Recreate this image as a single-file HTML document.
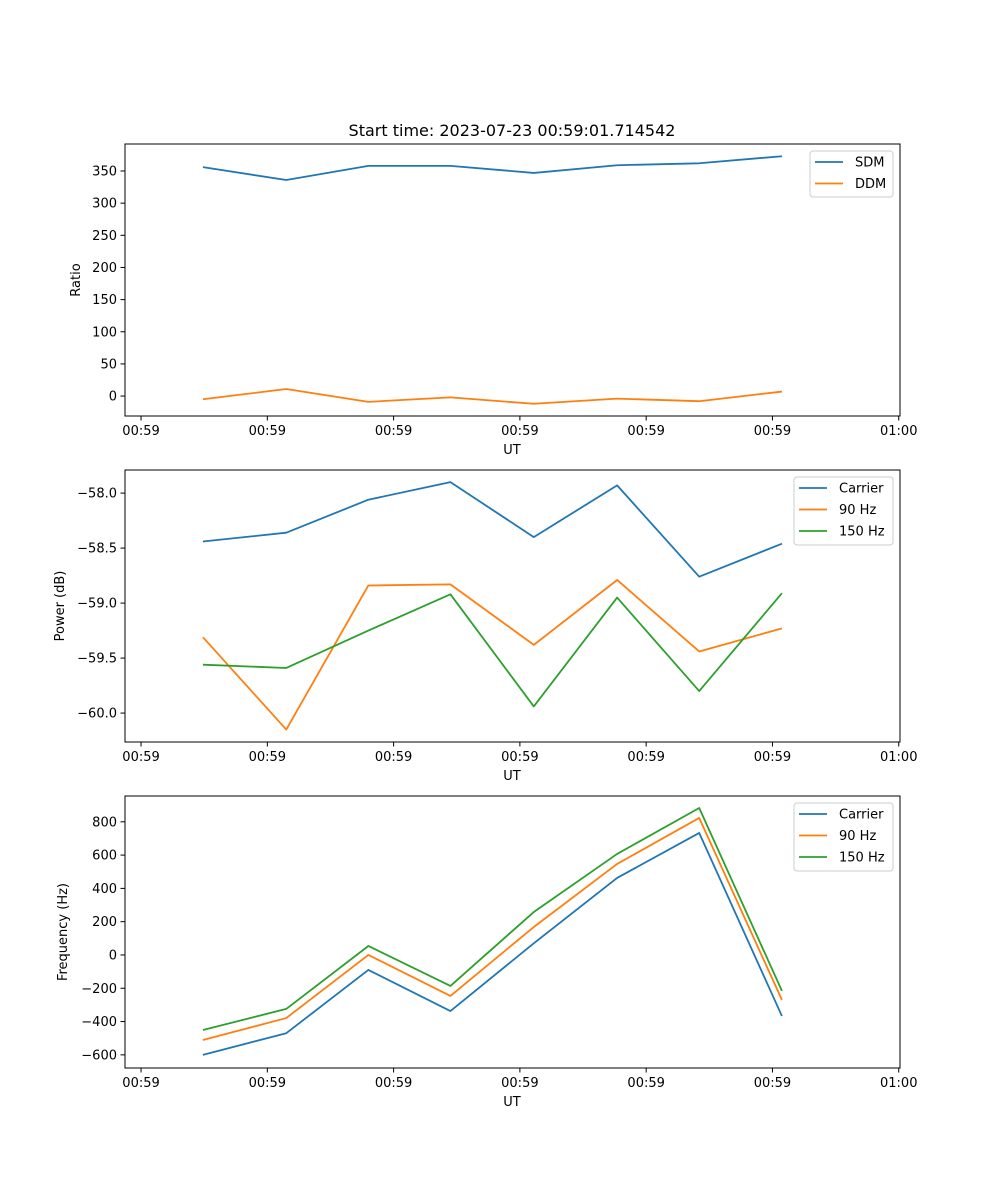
<!DOCTYPE html>
<html><head><meta charset="utf-8">
<style>
html,body{margin:0;padding:0;background:#fff;}
svg{display:block;font-family:"DejaVu Sans","Liberation Sans",sans-serif;}
</style></head>
<body>
<svg id="chart" width="1000" height="1200" viewBox="0 0 1000 1200" xmlns="http://www.w3.org/2000/svg">
<rect width="1000" height="1200" fill="#fff"/>
<text x="512" y="136" font-size="16" text-anchor="middle">Start time: 2023-07-23 00:59:01.714542</text>
</svg>
<script>
// Shared x data (seconds after 00:59:00)
var timeSec = [4.9, 11.5, 18.0, 24.5, 31.1, 37.7, 44.2, 50.75];
var xTickVals = [0, 10, 20, 30, 40, 50, 60];
var xTickLabels = ["00:59","00:59","00:59","00:59","00:59","00:59","01:00"];

// Panel 1: Ratio
var sdmValues = [356, 336, 358, 358, 347, 359, 362, 373];
var ddmValues = [-5, 11, -9, -2, -12, -4, -8, 7];
var ratioTicks = [0, 50, 100, 150, 200, 250, 300, 350];
var ratioTickLabels = ["0","50","100","150","200","250","300","350"];

// Panel 2: Power
var powerCarrier = [-58.44, -58.36, -58.06, -57.90, -58.40, -57.93, -58.76, -58.46];
var power90 = [-59.31, -60.15, -58.84, -58.83, -59.38, -58.79, -59.44, -59.23];
var power150 = [-59.56, -59.59, -59.25, -58.92, -59.94, -58.95, -59.80, -58.91];
var powerTicks = [-60.0, -59.5, -59.0, -58.5, -58.0];
var powerTickLabels = ["\u221260.0","\u221259.5","\u221259.0","\u221258.5","\u221258.0"];

// Panel 3: Frequency
var freqCarrier = [-600, -470, -90, -337, 70, 463, 733, -367];
var freq90 = [-511, -379, 0, -246, 168, 547, 823, -270];
var freq150 = [-451, -324, 54, -186, 258, 607, 883, -216];
var freqTicks = [-600, -400, -200, 0, 200, 400, 600, 800];
var freqTickLabels = ["\u2212600","\u2212400","\u2212200","0","200","400","600","800"];

var NS = "http://www.w3.org/2000/svg";
var svg = document.getElementById("chart");
var C = {blue:"#1f77b4", orange:"#ff7f0e", green:"#2ca02c"};
var AX_L = 125, AX_R = 900;
var xMin = -1.27, xMax = 60.1;
function xScale(v){ return AX_L + (v - xMin) / (xMax - xMin) * (AX_R - AX_L); }

function mk(tag, attrs, parent){
  var e = document.createElementNS(NS, tag);
  for (var k in attrs) e.setAttribute(k, attrs[k]);
  (parent || svg).appendChild(e);
  return e;
}

function panel(opts){
  var top = opts.top, bot = opts.top + 272;
  var g = mk("g", {});
  
  
  function yScale(v){ return bot - (v - opts.yMin) / (opts.yMax - opts.yMin) * (bot - top); }
  opts.series.forEach(function(s){
    var pts = timeSec.map(function(t, i){ return xScale(t).toFixed(2) + "," + yScale(s.values[i]).toFixed(2); }).join(" ");
    var pl = mk("polyline", {points: pts, fill: "none", stroke: s.color, "stroke-width": 1.8, "stroke-linejoin": "round"}, g);
    
    
  });
  var fr = mk("rect", {x: AX_L, y: top, width: AX_R - AX_L, height: bot - top, fill: "none", stroke: "#000", "stroke-width": 1}, g);
  
  
  xTickVals.forEach(function(v, i){
    var x = xScale(v);
    mk("line", {x1: x, x2: x, y1: bot, y2: bot + 4.5, stroke: "#000", "stroke-width": 1}, g);
    var t = mk("text", {x: x, y: bot + 19, "font-size": 13, "text-anchor": "middle"}, g);
    
    
    t.textContent = xTickLabels[i];
  });
  var xl = mk("text", {x: 512, y: bot + 38, "font-size": 13, "text-anchor": "middle"}, g);
  
  
  xl.textContent = "UT";
  opts.yTicks.forEach(function(v, i){
    var y = yScale(v);
    mk("line", {x1: AX_L - 4.5, x2: AX_L, y1: y, y2: y, stroke: "#000", "stroke-width": 1}, g);
    var t = mk("text", {x: AX_L - 8, y: y + 4.5, "font-size": 13, "text-anchor": "end"}, g);
    
    
    t.textContent = opts.yTickLabels[i];
  });
  var yl = mk("text", {x: opts.yLabelX, y: (top + bot) / 2, "font-size": 13, "text-anchor": "middle", transform: "rotate(-90 " + opts.yLabelX + " " + (top + bot) / 2 + ")"}, g);
  
  
  yl.textContent = opts.yLabel;
  var lw = opts.legendW, n = opts.series.length;
  var lx = 893 - lw, ly = top + 7;
  var lg = mk("g", {}, g);
  
  
  mk("rect", {x: lx, y: ly, width: lw, height: 2 + n * 22, rx: 3, fill: "#fff", "fill-opacity": 0.8, stroke: "#ccc", "stroke-width": 1}, lg);
  opts.series.forEach(function(s, i){
    var ry = ly + 11 + i * 21.5;
    var en = mk("g", {}, lg);
    
    
    mk("line", {x1: lx + 5, x2: lx + 33, y1: ry, y2: ry, stroke: s.color, "stroke-width": 1.8}, en);
    var t = mk("text", {x: lx + 45, y: ry + 4.5, "font-size": 13}, en);
    t.textContent = s.label;
  });
}

panel({name: "ratio-panel", top: 144, yMin: -31, yMax: 392, yTicks: ratioTicks, yTickLabels: ratioTickLabels,
  yLabel: "Ratio", yLabelX: 80, legendW: 83,
  series: [{key: "sdm", label: "SDM", color: C.blue, values: sdmValues},
           {key: "ddm", label: "DDM", color: C.orange, values: ddmValues}]});

panel({name: "power-panel", top: 470, yMin: -60.263, yMax: -57.79, yTicks: powerTicks, yTickLabels: powerTickLabels,
  yLabel: "Power (dB)", yLabelX: 64, legendW: 99,
  series: [{key: "carrier", label: "Carrier", color: C.blue, values: powerCarrier},
           {key: "90hz", label: "90 Hz", color: C.orange, values: power90},
           {key: "150hz", label: "150 Hz", color: C.green, values: power150}]});

panel({name: "frequency-panel", top: 796, yMin: -679, yMax: 955, yTicks: freqTicks, yTickLabels: freqTickLabels,
  yLabel: "Frequency (Hz)", yLabelX: 67, legendW: 99,
  series: [{key: "carrier", label: "Carrier", color: C.blue, values: freqCarrier},
           {key: "90hz", label: "90 Hz", color: C.orange, values: freq90},
           {key: "150hz", label: "150 Hz", color: C.green, values: freq150}]});
</script>
</body></html>
